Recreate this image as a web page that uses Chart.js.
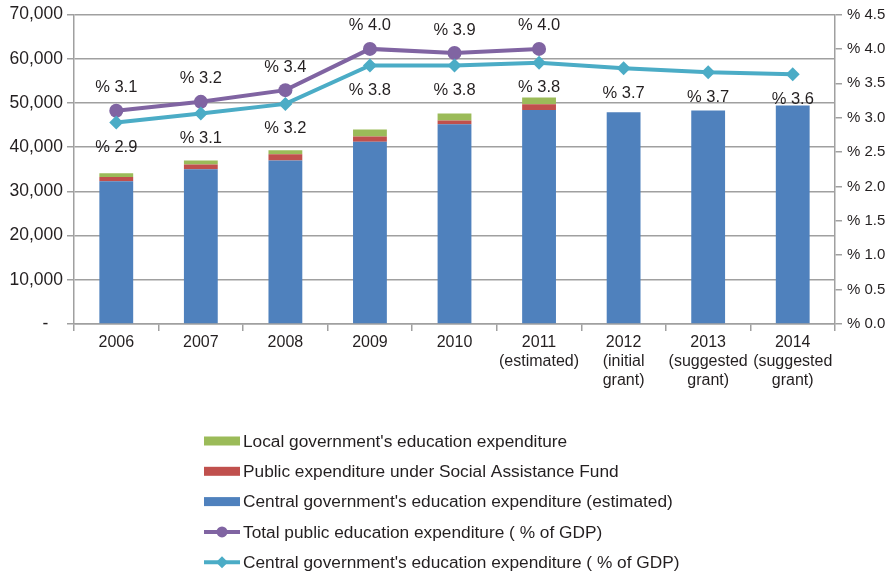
<!DOCTYPE html>
<html>
<head>
<meta charset="utf-8">
<script src="https://cdn.jsdelivr.net/npm/chart.js@4.4.0/dist/chart.umd.min.js"></script>
<style>
  html, body { margin: 0; padding: 0; background: #fff; }
  #wrap { width: 892px; height: 575px; }
</style>
</head>
<body>
<div id="wrap"><canvas id="eduChart" width="892" height="575"></canvas></div>
<script>
const years = [
    ['2006'], ['2007'], ['2008'], ['2009'], ['2010'],
    ['2011', '(estimated)'],
    ['2012', '(initial', 'grant)'],
    ['2013', '(suggested', 'grant)'],
    ['2014', '(suggested', 'grant)']
];
const centralSpend = [32300, 35000, 37000, 41200, 45200, 48400, 47900, 48300, 49400];
const socialFund   = [950, 1100, 1400, 1200, 850, 1300, null, null, null];
const localSpend   = [850, 900, 900, 1600, 1550, 1500, null, null, null];
const totalPct     = [3.10, 3.23, 3.40, 4.00, 3.94, 4.00, null, null, null];
const centralPct   = [2.93, 3.06, 3.20, 3.76, 3.76, 3.80, 3.72, 3.66, 3.63];

const leftTicks = [0, 10000, 20000, 30000, 40000, 50000, 60000, 70000];

const BLUE = '#4f81bd', RED = '#c0504d', GREEN = '#9bbb59', PURPLE = '#8064a2', CYAN = '#4bacc6';
const GRID = '#a0a0a0', TEXT = '#231f20';
const FONT = '"Liberation Sans", Arial, Helvetica, sans-serif';

Chart.defaults.font.family = FONT;
Chart.defaults.color = TEXT;

// "% x.x" labels above the total line and below the central line
const pctLabels = {
    id: 'pctLabels',
    afterDatasetsDraw(chart) {
        const ctx = chart.ctx;
        ctx.save();
        ctx.font = '16.5px ' + FONT;
        ctx.fillStyle = TEXT;
        ctx.textAlign = 'center';
        ctx.textBaseline = 'middle';
        chart.data.datasets.forEach((ds, i) => {
            if (!ds.pctLabel) return;
            const meta = chart.getDatasetMeta(i);
            meta.data.forEach((pt, j) => {
                const v = ds.data[j];
                if (v == null) return;
                const dy = ds.pctLabel === 'above' ? -23 : 25;
                ctx.fillText('% ' + v.toFixed(1), pt.x, pt.y + dy);
            });
        });
        ctx.restore();
    }
};

// vertical legend under the plot
const stackLegend = {
    id: 'stackLegend',
    afterDraw(chart) {
        const ctx = chart.ctx;
        const items = [2, 1, 0, 3, 4].map(i => chart.data.datasets[i]);
        const x0 = 204, x1 = 240;
        ctx.save();
        ctx.font = '17.3px ' + FONT;
        ctx.textBaseline = 'middle';
        items.forEach((ds, k) => {
            const y = 441 + k * 30.3;
            if (ds.type === 'line') {
                ctx.strokeStyle = ds.borderColor;
                ctx.lineWidth = 4;
                ctx.beginPath();
                ctx.moveTo(x0, y);
                ctx.lineTo(x1, y);
                ctx.stroke();
                ctx.fillStyle = ds.borderColor;
                ctx.beginPath();
                if (ds.pointStyle === 'rectRot') {
                    ctx.moveTo(222, y - 6); ctx.lineTo(228, y); ctx.lineTo(222, y + 6); ctx.lineTo(216, y);
                } else {
                    ctx.arc(222, y, 5.5, 0, Math.PI * 2);
                }
                ctx.closePath();
                ctx.fill();
            } else {
                ctx.fillStyle = ds.backgroundColor;
                ctx.fillRect(x0, y - 4.5, x1 - x0, 9);
            }
            ctx.fillStyle = TEXT;
            ctx.fillText(ds.label, 243, y + 1);
        });
        ctx.restore();
    }
};

new Chart(document.getElementById('eduChart'), {
    data: {
        labels: years,
        datasets: [
            { type: 'bar', label: "Central government's education expenditure (estimated)", data: centralSpend,
              backgroundColor: BLUE, stack: 'spend', yAxisID: 'y', order: 2 },
            { type: 'bar', label: 'Public expenditure under Social Assistance Fund', data: socialFund,
              backgroundColor: RED, stack: 'spend', yAxisID: 'y', order: 2 },
            { type: 'bar', label: "Local government's education expenditure", data: localSpend,
              backgroundColor: GREEN, stack: 'spend', yAxisID: 'y', order: 2 },
            { type: 'line', label: 'Total public education expenditure ( % of GDP)', data: totalPct,
              borderColor: PURPLE, backgroundColor: PURPLE, borderWidth: 4, pointStyle: 'circle',
              pointRadius: 7, pointBorderWidth: 0, yAxisID: 'y1', order: 1, spanGaps: false, pctLabel: 'above' },
            { type: 'line', label: "Central government's education expenditure ( % of GDP)", data: centralPct,
              borderColor: CYAN, backgroundColor: CYAN, borderWidth: 4, pointStyle: 'rectRot',
              pointRadius: 7, pointBorderWidth: 0, yAxisID: 'y1', order: 0, pctLabel: 'below' }
        ]
    },
    options: {
        responsive: false,
        animation: false,
        devicePixelRatio: 1,
        layout: { padding: { top: 14, bottom: 171, left: 0, right: 0 } },
        plugins: { legend: { display: false }, tooltip: { enabled: false } },
        datasets: { bar: { barPercentage: 0.4, categoryPercentage: 1 } },
        scales: {
            x: {
                stacked: true,
                grid: { offset: true, drawOnChartArea: false, tickLength: 7, color: GRID, lineWidth: 1.5 },
                border: { color: GRID, width: 1.5 },
                ticks: { font: { size: 16, lineHeight: 1.19 }, padding: 2, maxRotation: 0, autoSkip: false },
                afterFit: s => { s.height = 80; }
            },
            y: {
                stacked: true, position: 'left', min: 0, max: 70000,
                afterBuildTicks: s => { s.ticks = leftTicks.map(v => ({ value: v })); },
                grid: { color: GRID, lineWidth: 1.5, tickLength: 7 },
                border: { color: GRID, width: 1.5 },
                ticks: {
                    font: { size: 17.5 }, padding: 4,
                    // accounting-style zero: a dash with trailing space
                    callback: v => v === 0 ? '-   ' : v.toLocaleString('en-US')
                },
                afterFit: s => { s.width = 74; }
            },
            y1: {
                position: 'right', min: 0, max: 4.5,
                grid: { drawOnChartArea: false, color: GRID, lineWidth: 1.5, tickLength: 7 },
                border: { color: GRID, width: 1.5 },
                ticks: { stepSize: 0.5, font: { size: 15 }, padding: 5, callback: v => '% ' + v.toFixed(1) },
                afterFit: s => { s.width = 57; }
            }
        }
    },
    plugins: [pctLabels, stackLegend]
});
</script>
</body>
</html>
